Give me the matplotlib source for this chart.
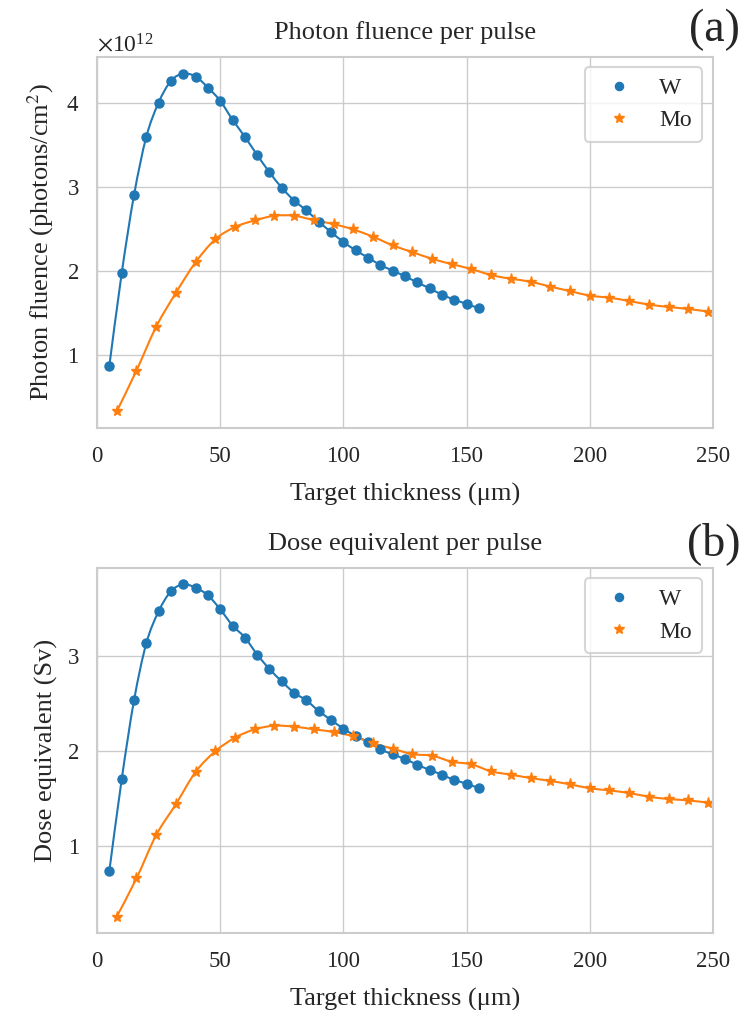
import numpy as np
import matplotlib
matplotlib.use("Agg")
import matplotlib.pyplot as plt
import seaborn as sns
from matplotlib.path import Path
from matplotlib.patches import PathPatch
from matplotlib.ticker import ScalarFormatter

# target thickness in um
W_THICK = [5, 10, 15, 20, 25, 30, 35, 40, 45, 50, 55, 60, 65, 70, 75, 80,
           85, 90, 95, 100, 105, 110, 115, 120, 125, 130, 135, 140, 145, 150, 155]
MO_THICK = [8, 16, 24, 32, 40, 48, 56, 64, 72, 80, 88, 96, 104, 112, 120, 128,
            136, 144, 152, 160, 168, 176, 184, 192, 200, 208, 216, 224, 232, 240, 248]

# photon fluence per pulse, units of 1e12 photons/cm^2
W_FLUENCE = [0.873, 1.971, 2.899, 3.593, 4.000, 4.257, 4.343, 4.308, 4.178, 4.020,
             3.795, 3.593, 3.376, 3.171, 2.986, 2.835, 2.717, 2.583, 2.460, 2.342,
             2.243, 2.156, 2.069, 2.002, 1.935, 1.861, 1.791, 1.716, 1.657, 1.606, 1.554]
MO_FLUENCE = [0.329, 0.814, 1.335, 1.738, 2.101, 2.374, 2.520, 2.598, 2.654, 2.654,
              2.602, 2.555, 2.491, 2.405, 2.302, 2.222, 2.142, 2.079, 2.020, 1.949,
              1.905, 1.870, 1.811, 1.759, 1.704, 1.680, 1.641, 1.598, 1.570, 1.546, 1.515]
FLUENCE_SCALE = 1e12

# dose equivalent per pulse, Sv
W_DOSE = [0.745, 1.706, 2.535, 3.136, 3.472, 3.682, 3.755, 3.720, 3.640, 3.493,
          3.322, 3.196, 3.017, 2.864, 2.734, 2.615, 2.535, 2.423, 2.329, 2.238,
          2.161, 2.098, 2.021, 1.969, 1.918, 1.859, 1.804, 1.754, 1.698, 1.660, 1.611]
MO_DOSE = [0.262, 0.664, 1.119, 1.444, 1.783, 2.000, 2.143, 2.231, 2.269, 2.259,
           2.231, 2.203, 2.157, 2.085, 2.028, 1.970, 1.954, 1.891, 1.863, 1.789,
           1.754, 1.719, 1.688, 1.653, 1.611, 1.589, 1.561, 1.523, 1.498, 1.484, 1.460]

BLUE = "#1f77b4"
ORANGE = "#ff7f0e"


def smooth_path(x, y):
    # Catmull-Rom curve through the points, drawn as cubic bezier segments
    pts = np.column_stack([x, y]).astype(float)
    n = len(pts)
    verts = [pts[0]]
    codes = [Path.MOVETO]
    for i in range(n - 1):
        p0 = pts[i - 1] if i > 0 else pts[i]
        p1, p2 = pts[i], pts[i + 1]
        p3 = pts[i + 2] if i + 2 < n else pts[i + 1]
        verts += [p1 + (p2 - p0) / 6, p2 - (p3 - p1) / 6, p2]
        codes += [Path.CURVE4] * 3
    return Path(verts, codes)


def draw_panel(ax, w, mo, title, ylabel):
    for x, y, c in ((W_THICK, w, BLUE), (MO_THICK, mo, ORANGE)):
        ax.add_patch(PathPatch(smooth_path(x, y), fill=False, edgecolor=c, lw=1.5))
    ax.plot(W_THICK, w, "o", ms=6.5, color=BLUE, label="W")
    ax.plot(MO_THICK, mo, "*", ms=8, color=ORANGE, label="Mo")
    ax.set_xlim(0, 250)
    ax.set_xticks([0, 50, 100, 150, 200, 250])
    ax.set_title(title, fontsize=19, pad=13)
    ax.set_xlabel("Target thickness (μm)", fontsize=19, labelpad=11)
    ax.set_ylabel(ylabel, fontsize=19, labelpad=7)
    ax.tick_params(labelsize=16.5, pad=7)
    leg = ax.legend(loc="upper right", fontsize=17, frameon=True, borderpad=0.45,
                    handletextpad=0.7, labelspacing=0.45, handlelength=2.0,
                    borderaxespad=0.45, markerscale=0.9)
    leg.get_frame().set_edgecolor("#cccccc")
    leg.get_frame().set_linewidth(1.5)


sns.set_theme(style="whitegrid")
plt.rcParams["font.family"] = ["Liberation Serif", "DejaVu Serif"]
plt.rcParams["mathtext.fontset"] = "stix"

fig = plt.figure(figsize=(7.41, 10.10), dpi=100)
ax1 = fig.add_axes([0.131, 0.576, 0.831, 0.368])
ax2 = fig.add_axes([0.131, 0.076, 0.831, 0.362])

w_flu = np.array(W_FLUENCE) * FLUENCE_SCALE
mo_flu = np.array(MO_FLUENCE) * FLUENCE_SCALE
draw_panel(ax1, w_flu, mo_flu, "Photon fluence per pulse",
           "Photon fluence (photons/cm$^2$)")
ax1.set_yticks(np.array([1, 2, 3, 4]) * FLUENCE_SCALE)
fmt = ScalarFormatter(useMathText=True)
ax1.yaxis.set_major_formatter(fmt)
ax1.yaxis.get_offset_text().set_fontsize(17)

draw_panel(ax2, W_DOSE, MO_DOSE, "Dose equivalent per pulse", "Dose equivalent (Sv)")
ax2.set_yticks([1, 2, 3])

for ax in (ax1, ax2):
    ax.autoscale_view(scalex=False)
    for s in ax.spines.values():
        s.set_linewidth(1.5)

fig.text(0.999, 0.970, "(a)", fontsize=33, ha="right", va="center")
fig.text(0.999, 0.462, "(b)", fontsize=33, ha="right", va="center")

fig.savefig("out.png", dpi=100)
